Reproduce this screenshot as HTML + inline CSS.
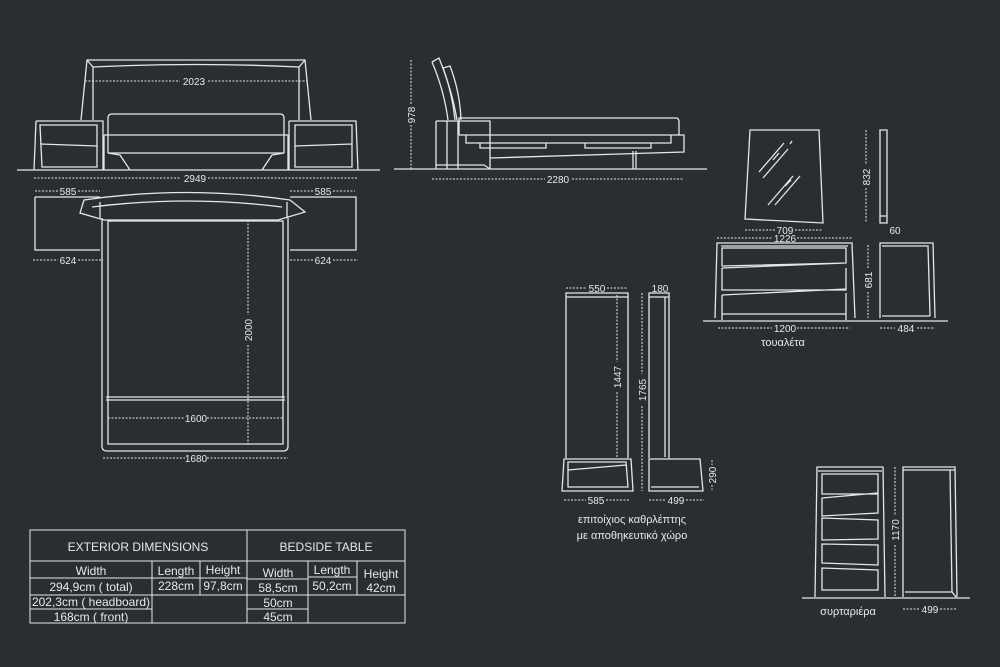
<!DOCTYPE html>
<html><head><meta charset="utf-8"><style>
html,body{margin:0;padding:0;background:#2b2e31;}
svg{display:block}
text{font-family:"Liberation Sans","DejaVu Sans",sans-serif;fill:#e8e8e8;}
</style></head><body>
<svg width="1000" height="667" viewBox="0 0 1000 667" xmlns="http://www.w3.org/2000/svg">
<rect width="1000" height="667" fill="#2b2e31"/>
<g fill="none" stroke="#e6e6e6" stroke-width="1.3">
<!-- FRONT BED -->
<path d="M81,120 L87,60 L305,60 L311,120"/>
<path d="M93,120 L93,67 Q196,62 299,67 L299,120"/>
<line x1="87" y1="60" x2="93" y2="67"/><line x1="305" y1="60" x2="299" y2="67"/>
<path d="M36,121 L103,121 L103,170 M34,170 L36,121"/>
<path d="M40,125 L97,125 L97,167 L42,167 Z M40,144 L97,146"/>
<path d="M289,121 L356,121 L358,170 M289,121 L289,170"/>
<path d="M295,125 L352,125 L352,167 L295,167 Z M295,146 L352,144"/>
<path d="M108,153 L108,118 Q108,114 112,114 L280,114 Q284,114 284,118 L284,153"/>
<path d="M104,135 L288,135 M108,153 L284,153 M104,135 L104,170 M288,135 L288,170"/>
<path d="M108,153 L120,155 L130,170 M284,153 L272,155 L262,170"/>
<line x1="17" y1="170" x2="380" y2="170"/>
<!-- PLAN VIEW -->
<path d="M35,197 L100,197 M35,197 L35,250 L100,250 M290,197 L356,197 L356,250 L290,250"/>
<path d="M84,200 Q187,185 290,200 L305,212 L278,220 L104,220 L80,213 Z"/>
<path d="M92,207 Q187,195 282,207 M100,218 L100,202 M287,218 L287,202"/>
<path d="M102,218 L102,446 Q102,451 107,451 L283,451 Q288,451 288,446 L288,218"/>
<path d="M108,221 L108,444 L283,444 L283,221 Z"/>
<path d="M106,397 L285,397 M106,400 L285,400"/>
<!-- SIDE VIEW -->
<path d="M432,62 L439,58 Q452,90 457,120 M432,62 Q444,90 448,120"/>
<path d="M443,68 L450,66 Q460,92 461,120 M443,68 Q452,92 455,120"/>
<path d="M436,121 L490,121 L490,169 M436,121 L436,169 M447,121 L447,169 M458,121 L458,169"/>
<path d="M436,165 L484,165 L490,169"/>
<path d="M459,135 L459,118 L676,118 Q679,118 679,122 L679,135 L459,135"/>
<path d="M679,135 L684,135 L684,152 L490,158"/>
<path d="M466,135 L466,143 L671,143 L671,135 M480,143 L480,148 L546,148 L546,143 M585,143 L585,148 L651,148 L651,143"/>
<path d="M633,151 L633,169 M636,151 L636,169"/>
<line x1="394" y1="169" x2="707" y2="169"/>
<!-- MIRROR -->
<path d="M750,130 L819,130 L823,223 L745,219 Z"/>
<path d="M759,172 L784,143 M763,178 L788,149 M773,160 L779,153 M790,144 L792,141 M768,205 L793,176 M775,205 L800,176 M785,186 L791,180"/>
<path d="M880,130 L887,130 L887,223 L880,223 Z M880,216 L887,216"/>
<!-- DRESSER -->
<path d="M715,318 L717,243 L852,243 L855,318"/>
<path d="M721,246 L848,246 M722,248 L846,248 L846,263 L722,266 Z M722,268 L846,263 M722,268 L722,290 L846,290 L846,268 M722,295 L846,289 M722,295 L722,314 L846,314 L846,293 M722,314 L722,320 M846,314 L846,320"/>
<path d="M880,318 L880,243 L933,243 L935,318 M882,246 L928,246 L930,316 M882,316 L930,316"/>
<line x1="703" y1="321" x2="948" y2="321"/>
<!-- WALL MIRROR CABINET -->
<path d="M566,458 L566,293 L628,293 L628,458 M566,297 L628,297"/>
<path d="M562,491 L564,459 L631,459 L633,491 Z M568,462 L626,462 L628,487 L568,487 Z M568,470 L626,465"/>
<path d="M649,458 L649,293 L669,293 L669,458 M649,297 L669,297 M665,297 L665,457"/>
<path d="M649,459 L700,459 L703,491 L649,491 Z M651,487 L699,487"/>
<!-- CHEST -->
<path d="M815,597 L817,467 L883,467 L885,597 M818,471 L882,471"/>
<path d="M822,474 L878,474 L878,494 L822,494 Z M822,498 L878,493 L878,513 L822,516 Z M822,518 L878,520 L878,539 L822,540 Z M822,544 L878,545 L878,565 L822,563 Z M822,568 L878,570 L878,590 L822,590 Z"/>
<path d="M903,597 L903,467 L955,467 L957,597 M903,470 L955,470 M950,470 L952,592 M905,592 L952,592 L956,597"/>
<line x1="802" y1="598" x2="970" y2="598"/>
</g>
<!-- DIMENSION LINES -->
<g fill="none" stroke="#e6e6e6" stroke-width="1" stroke-dasharray="2 1.5">
<line x1="85" y1="81" x2="180" y2="81"/><line x1="208" y1="81" x2="307" y2="81"/>
<line x1="34" y1="178" x2="181" y2="178"/><line x1="208" y1="178" x2="358" y2="178"/>
<line x1="35" y1="191" x2="58" y2="191"/><line x1="78" y1="191" x2="100" y2="191"/>
<line x1="290" y1="191" x2="313" y2="191"/><line x1="333" y1="191" x2="355" y2="191"/>
<line x1="33" y1="260" x2="58" y2="260"/><line x1="78" y1="260" x2="103" y2="260"/>
<line x1="290" y1="260" x2="313" y2="260"/><line x1="333" y1="260" x2="358" y2="260"/>
<line x1="248" y1="220" x2="248" y2="315"/><line x1="248" y1="345" x2="248" y2="444"/>
<line x1="108" y1="418" x2="185" y2="418"/><line x1="207" y1="418" x2="283" y2="418"/>
<line x1="103" y1="458" x2="185" y2="458"/><line x1="207" y1="458" x2="288" y2="458"/>
<line x1="411" y1="60" x2="411" y2="105"/><line x1="411" y1="125" x2="411" y2="169"/>
<line x1="432" y1="179" x2="545" y2="179"/><line x1="572" y1="179" x2="683" y2="179"/>
<line x1="745" y1="230" x2="775" y2="230"/><line x1="795" y1="230" x2="823" y2="230"/>
<line x1="717" y1="238" x2="772" y2="238"/><line x1="797" y1="238" x2="852" y2="238"/>
<line x1="866" y1="130" x2="866" y2="165"/><line x1="866" y1="188" x2="866" y2="223"/>
<line x1="868" y1="245" x2="868" y2="268"/><line x1="868" y1="292" x2="868" y2="318"/>
<line x1="718" y1="328" x2="772" y2="328"/><line x1="797" y1="328" x2="850" y2="328"/>
<line x1="880" y1="328" x2="895" y2="328"/><line x1="917" y1="328" x2="935" y2="328"/>
<line x1="566" y1="288" x2="587" y2="288"/><line x1="607" y1="288" x2="628" y2="288"/>
<line x1="617" y1="295" x2="617" y2="362"/><line x1="617" y1="392" x2="617" y2="458"/>
<line x1="642" y1="293" x2="642" y2="374"/><line x1="642" y1="406" x2="642" y2="491"/>
<line x1="564" y1="500" x2="586" y2="500"/><line x1="606" y1="500" x2="629" y2="500"/>
<line x1="649" y1="500" x2="666" y2="500"/><line x1="686" y1="500" x2="704" y2="500"/>
<line x1="712" y1="460" x2="712" y2="465"/><line x1="712" y1="485" x2="712" y2="490"/>
<line x1="895" y1="467" x2="895" y2="515"/><line x1="895" y1="545" x2="895" y2="597"/>
<line x1="903" y1="609" x2="920" y2="609"/><line x1="940" y1="609" x2="957" y2="609"/>
</g>
<g font-size="10" text-anchor="middle">
<text x="194" y="85">2023</text>
<text x="195" y="182">2949</text>
<text x="68" y="195">585</text>
<text x="323" y="195">585</text>
<text x="68" y="264">624</text>
<text x="323" y="264">624</text>
<text x="196" y="422">1600</text>
<text x="196" y="462">1680</text>
<text x="558" y="183">2280</text>
<text x="785" y="234">709</text>
<text x="785" y="242">1226</text>
<text x="895" y="234">60</text>
<text x="785" y="332">1200</text>
<text x="906" y="332">484</text>
<text x="597" y="292">550</text>
<text x="660" y="292">180</text>
<text x="596" y="504">585</text>
<text x="676" y="504">499</text>
<text x="930" y="613">499</text>
<text transform="translate(252,330) rotate(-90)">2000</text>
<text transform="translate(415,115) rotate(-90)">978</text>
<text transform="translate(870,177) rotate(-90)">832</text>
<text transform="translate(872,280) rotate(-90)">681</text>
<text transform="translate(621,377) rotate(-90)">1447</text>
<text transform="translate(646,390) rotate(-90)">1765</text>
<text transform="translate(716,475) rotate(-90)">290</text>
<text transform="translate(899,530) rotate(-90)">1170</text>
</g>
<g font-size="11" text-anchor="middle" font-family="Liberation Sans, DejaVu Sans, sans-serif">
<text x="783" y="346">τουαλέτα</text>
<text x="632" y="523">επιτοίχιος καθρλέπτης</text>
<text x="632" y="539">με αποθηκευτικό χώρο</text>
<text x="848" y="615">συρταριέρα</text>
</g>
<!-- TABLE -->
<g fill="none" stroke="#e6e6e6" stroke-width="1">
<rect x="30" y="530" width="375" height="93"/>
<line x1="30" y1="561" x2="405" y2="561"/>
<line x1="247" y1="530" x2="247" y2="623"/>
<line x1="152" y1="561" x2="152" y2="623"/>
<line x1="200" y1="561" x2="200" y2="595"/>
<line x1="30" y1="578" x2="247" y2="578"/>
<line x1="30" y1="595" x2="247" y2="595"/>
<line x1="30" y1="609" x2="152" y2="609"/>
<line x1="308" y1="561" x2="308" y2="623"/>
<line x1="357" y1="561" x2="357" y2="595"/>
<line x1="247" y1="579" x2="308" y2="579"/>
<line x1="308" y1="577" x2="357" y2="577"/>
<line x1="247" y1="595" x2="405" y2="595"/>
<line x1="247" y1="609" x2="308" y2="609"/>
</g>
<g font-size="12" text-anchor="middle">
<text x="138" y="551">EXTERIOR DIMENSIONS</text>
<text x="326" y="551">BEDSIDE TABLE</text>
<text x="91" y="575">Width</text>
<text x="176" y="575">Length</text>
<text x="223" y="574">Height</text>
<text x="91" y="591">294,9cm ( total)</text>
<text x="176" y="590">228cm</text>
<text x="223" y="590">97,8cm</text>
<text x="91" y="606">202,3cm ( headboard)</text>
<text x="91" y="621">168cm ( front)</text>
<text x="278" y="577">Width</text>
<text x="332" y="574">Length</text>
<text x="381" y="578">Height</text>
<text x="278" y="592">58,5cm</text>
<text x="332" y="590">50,2cm</text>
<text x="381" y="592">42cm</text>
<text x="278" y="607">50cm</text>
<text x="278" y="621">45cm</text>
</g>
</svg>
</body></html>
